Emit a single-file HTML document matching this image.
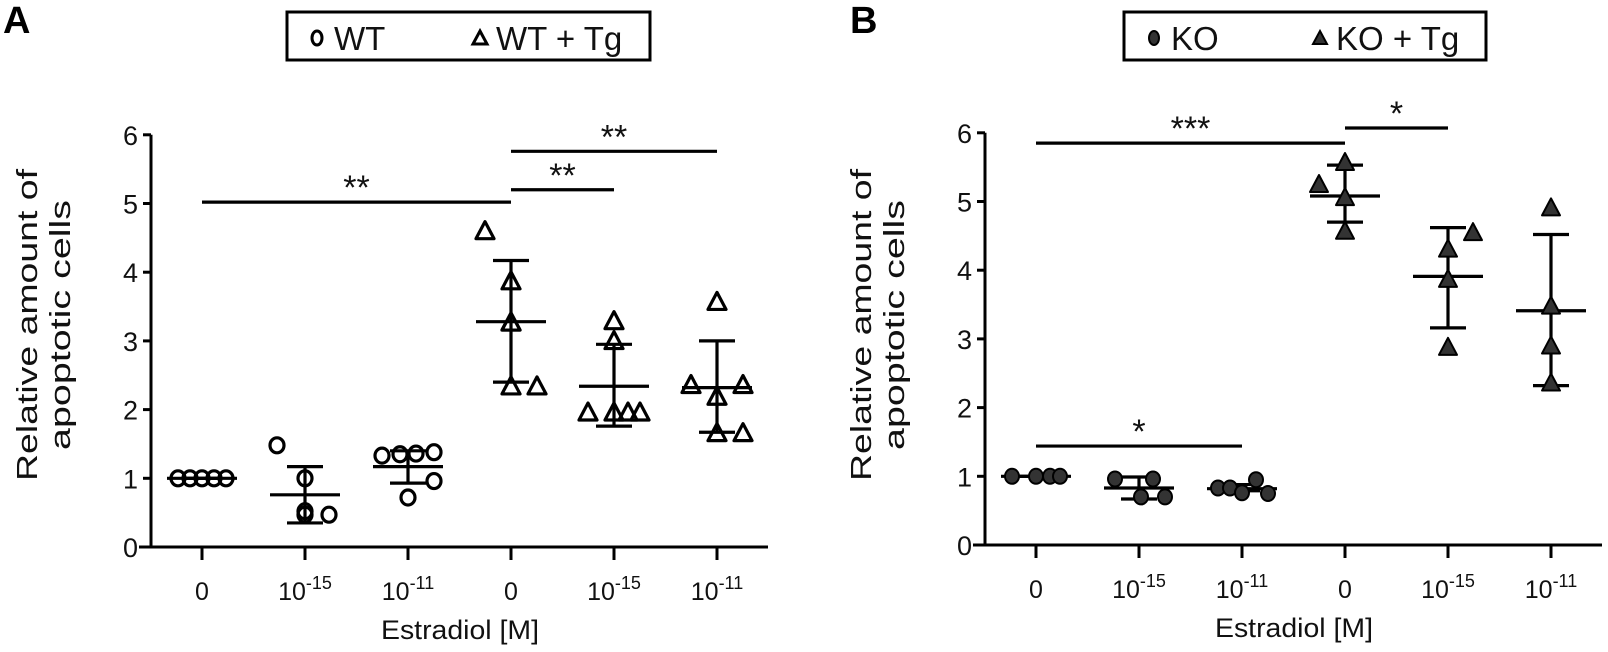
<!DOCTYPE html>
<html><head><meta charset="utf-8"><style>
html,body{margin:0;padding:0;background:#fff;}
svg{display:block;font-family:"Liberation Sans",Arial,sans-serif;}
</style></head><body>
<svg id="fig" width="1608" height="652" viewBox="0 0 1608 652" xmlns="http://www.w3.org/2000/svg"></svg>
<script>
// ----- data -----
const categories = ["0","10^-15","10^-11","0","10^-15","10^-11"];
const yTicks = [0,1,2,3,4,5,6];
// Panel A values (WT, WT+Tg)
const aPoints = [
  [1,1,1,1,1],
  [1.48,1.0,0.52,0.47,0.47],
  [1.33,1.35,1.36,1.38,0.96,0.72],
  [4.59,3.86,3.26,3.26,2.33,2.33],
  [3.28,2.99,1.95,1.95,1.95,1.95],
  [3.56,2.35,2.35,2.18,1.65,1.65]
];
const aOffsets = [[-24,-12,0,12,24],[-28,0,0,0,24],[-26,-8,8,26,26,0],[-26,0,0,0,0,26],[0,0,-26,0,14,26],[0,-26,26,0,0,26]];
const aMeans = [1.0,0.76,1.17,3.28,2.34,2.32];
const aSdHi = [1.0,1.17,1.40,4.17,2.95,3.0];
const aSdLo = [1.0,0.35,0.93,2.40,1.76,1.67];
// Panel B values (KO, KO+Tg)
const bPoints = [
  [1,1,1,1],
  [0.96,0.96,0.70,0.70],
  [0.83,0.83,0.95,0.76,0.75],
  [5.56,5.24,5.05,4.56],
  [4.54,4.30,3.86,2.87],
  [4.90,3.47,2.89,2.35]
];
const bOffsets = [[-24,0,14,24],[-24,14,2,26],[-24,-12,14,0,26],[0,-26,0,0],[25,0,0,0],[0,0,0,0]];
const bMeans = [1.0,0.83,0.82,5.08,3.91,3.41];
const bSdHi = [1.0,0.99,0.88,5.53,4.62,4.52];
const bSdLo = [1.0,0.67,0.79,4.70,3.16,2.32];
// significance brackets: [fromCat, toCat, yValue, label]
const aSig = [[0,3,5.02,"**"],[3,4,5.2,"**"],[3,5,5.76,"**"]];
const bSig = [[0,3,5.85,"***"],[3,4,6.07,"*"],[0,2,1.44,"*"]];

const NS="http://www.w3.org/2000/svg";
const svg=document.getElementById('fig');
function el(tag,attrs,parent){const e=document.createElementNS(NS,tag);for(const k in attrs)e.setAttribute(k,attrs[k]);(parent||svg).appendChild(e);return e;}

function panel(cfg){
  const g=el('g',{});
  
  
  const unit=68.7;
  const y=v=>cfg.y0-unit*v;
  const x=i=>cfg.ax+51+103*i;
  const ya=el('line',{x1:cfg.ax,y1:y(6),x2:cfg.ax,y2:cfg.y0+1.5,stroke:'#000','stroke-width':3},g);
  
  
  const xa=el('line',{x1:cfg.ax-12,y1:cfg.y0,x2:cfg.ax+617,y2:cfg.y0,stroke:'#000','stroke-width':3},g);
  
  
  yTicks.forEach(t=>{
    el('line',{x1:cfg.ax-8,y1:y(t),x2:cfg.ax,y2:y(t),stroke:'#000','stroke-width':3},g);
    const tx=el('text',{x:cfg.ax-13,y:y(t)+10,'font-size':27,'text-anchor':'end',fill:'#111'},g);
    tx.textContent=t;
    
    
  });
  categories.forEach((c,i)=>{
    el('line',{x1:x(i),y1:cfg.y0+1,x2:x(i),y2:cfg.y0+13,stroke:'#000','stroke-width':3},g);
    const tx=el('text',{x:x(i),y:cfg.y0+53,'font-size':25,'text-anchor':'middle',fill:'#111'},g);
    
    
    if(c.includes('^')){const [b,e]=c.split('^');
      const t1=el('tspan',{},tx);t1.textContent=b;
      const t2=el('tspan',{dy:-11,'font-size':18},tx);t2.textContent=e;
    } else tx.textContent=c;
  });
  const xt=el('text',{x:cfg.ax+309,y:cfg.y0+92,'font-size':27,'text-anchor':'middle',fill:'#111',textLength:158,lengthAdjust:'spacingAndGlyphs'},g);
  xt.textContent='Estradiol [M]';
  
  
  const yt=el('text',{transform:`translate(${cfg.tx},${cfg.ty}) rotate(-90)`,'font-size':29,'text-anchor':'middle',fill:'#111'},g);
  
  
  const l1=el('tspan',{x:0,dy:0,textLength:312,lengthAdjust:'spacingAndGlyphs'},yt);l1.textContent='Relative amount of';
  const l2=el('tspan',{x:0,dy:33,textLength:250,lengthAdjust:'spacingAndGlyphs'},yt);l2.textContent='apoptotic cells';
  cfg.means.forEach((m,i)=>{
    const eg=el('g',{stroke:'#000','stroke-width':3.2},g);
    
    
    el('line',{x1:x(i),y1:y(cfg.hi[i]),x2:x(i),y2:y(cfg.lo[i])},eg);
    el('line',{x1:x(i)-18,y1:y(cfg.hi[i]),x2:x(i)+18,y2:y(cfg.hi[i])},eg);
    el('line',{x1:x(i)-18,y1:y(cfg.lo[i]),x2:x(i)+18,y2:y(cfg.lo[i])},eg);
    el('line',{x1:x(i)-35,y1:y(m),x2:x(i)+35,y2:y(m)},eg);
  });
  cfg.points.forEach((arr,i)=>{
    arr.forEach((v,j)=>{
      const px=x(i)+(cfg.offsets[i][j]||0), py=y(v);
      let m;
      if(i<3){
        m=el('ellipse',{cx:px,cy:py,rx:7,ry:7.5,fill:cfg.filled?'#333':'none',stroke:'#000','stroke-width':cfg.filled?2:3.2},g);
      } else {
        m=el('polygon',{points:`${px},${py-10} ${px+9},${py+7} ${px-9},${py+7}`,fill:cfg.filled?'#333':'none',stroke:'#000','stroke-width':cfg.filled?2:3.2,'stroke-linejoin':'round'},g);
      }
      
      
    });
  });
  cfg.sig.forEach(s=>{
    const ln=el('line',{x1:x(s[0]),y1:y(s[2]),x2:x(s[1]),y2:y(s[2]),stroke:'#000','stroke-width':3.2},g);
    
    
    const st=el('text',{x:(x(s[0])+x(s[1]))/2,y:y(s[2])-3,'font-size':34,'text-anchor':'middle',fill:'#111'},g);
    st.textContent=s[3];
    
    
  });
  const lg=el('g',{},g);
  
  
  el('rect',{x:cfg.lx,y:12,width:cfg.lw,height:48,fill:'none',stroke:'#000','stroke-width':3},lg);
  el('ellipse',{cx:cfg.lx+30,cy:38,rx:5,ry:7,fill:cfg.filled?'#333':'none',stroke:'#000','stroke-width':cfg.filled?2:3},lg);
  const t1=el('text',{x:cfg.lx+47,y:50,'font-size':33,fill:'#111'},lg);t1.textContent=cfg.l1;
  
  
  const tx0=cfg.lx+cfg.tri;
  el('polygon',{points:`${tx0},${31} ${tx0+7},${44} ${tx0-7},${44}`,fill:cfg.filled?'#333':'none',stroke:'#000','stroke-width':cfg.filled?2:3},lg);
  const t2=el('text',{x:tx0+16,y:50,'font-size':33,fill:'#111'},lg);t2.textContent=cfg.l2;
  
  
  const pl=el('text',{x:cfg.px,y:33,'font-size':38,'font-weight':'bold',fill:'#000'},g);
  pl.textContent=cfg.label;
  
  
}
panel({name:'panel-a',ax:151,y0:547,points:aPoints,offsets:aOffsets,means:aMeans,hi:aSdHi,lo:aSdLo,sig:aSig,filled:false,
  tx:37,ty:325,lx:287,lw:363,l1:'WT',l2:'WT + Tg',tri:193,px:3,label:'A'});
panel({name:'panel-b',ax:985,y0:545,points:bPoints,offsets:bOffsets,means:bMeans,hi:bSdHi,lo:bSdLo,sig:bSig,filled:true,
  tx:871,ty:325,lx:1124,lw:362,l1:'KO',l2:'KO + Tg',tri:196,px:850,label:'B'});
</script>
</body></html>
